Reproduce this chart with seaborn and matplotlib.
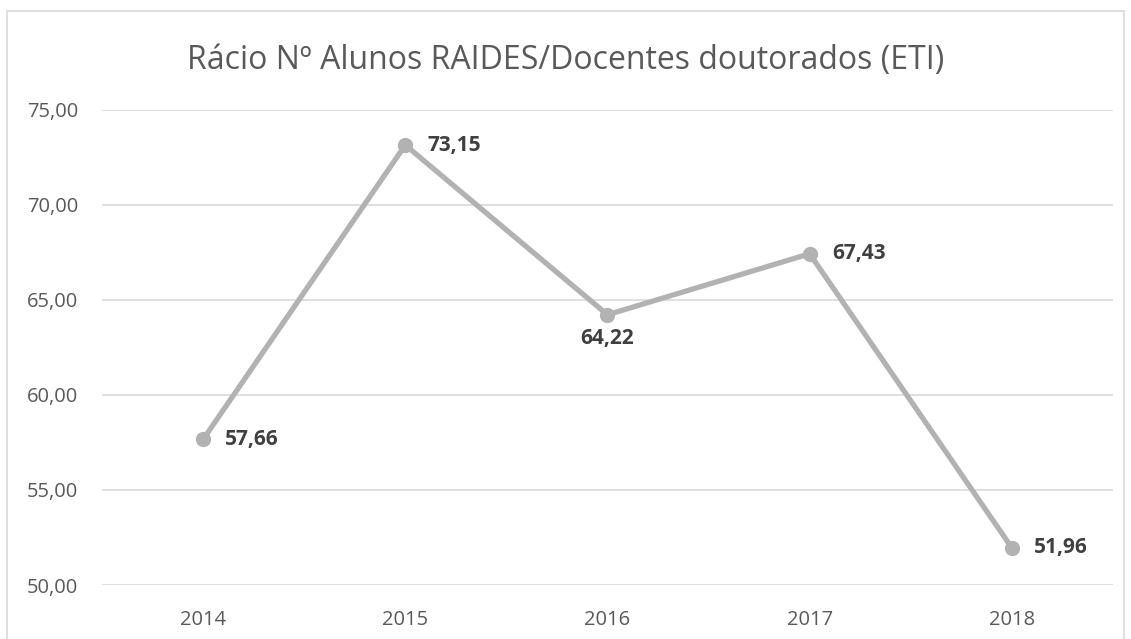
#############################################
########## 1. Load libraries
#############################################
import numpy as np
import pandas as pd
import seaborn as sns
import matplotlib.pyplot as plt
from matplotlib.patches import Rectangle

#############################################
########## 2. Data
#############################################
years = ['2014', '2015', '2016', '2017', '2018']
ratio = [57.66, 73.15, 64.22, 67.43, 51.96]
label_below = [False, False, True, False, False]
title = 'Rácio Nº Alunos RAIDES/Docentes doutorados (ETI)'

#############################################
########## 3. Plot
#############################################
sns.set_style('white')
plt.rcParams['font.family'] = ['Open Sans', 'DejaVu Sans']

df = pd.DataFrame({'year': years, 'ratio': ratio})

fig = plt.figure(figsize=(11.31, 6.39), dpi=100)
ax = fig.add_axes([0.0902, 0.0845, 0.8938, 0.7435])

# chart border
fig.patches.append(Rectangle((7 / 1131, -0.01), 1117 / 1131, 1 - 11 / 639 + 0.01,
                             transform=fig.transFigure, fill=False,
                             edgecolor='#D9D9D9', linewidth=1.2))

sns.lineplot(data=df, x='year', y='ratio', ax=ax, color='#B2B2B2',
             linewidth=3.8, marker='o', markersize=11, markeredgewidth=0, zorder=3)

ax.set_xlim(-0.5, len(years) - 0.5)
ax.set_ylim(50, 75)
ax.set_yticks(np.arange(50, 76, 5))
ax.set_yticklabels([f'{v:.2f}'.replace('.', ',') for v in np.arange(50, 76, 5)])
ax.yaxis.grid(True, color='#D9D9D9', linewidth=1.2)
ax.xaxis.grid(False)
for s in ax.spines.values():
    s.set_visible(False)
ax.tick_params(axis='both', length=0, labelsize=14.5, labelcolor='#595959')
ax.tick_params(axis='y', pad=17)
ax.tick_params(axis='x', pad=18)
ax.set(xlabel='', ylabel='')

# value labels
for i, (v, below) in enumerate(zip(ratio, label_below)):
    txt = f'{v:.2f}'.replace('.', ',')
    if below:
        ax.annotate(txt, (i, v), xytext=(0, -17), textcoords='offset points',
                    ha='center', va='center', fontsize=15, fontweight='bold', color='#404040')
    else:
        ax.annotate(txt, (i, v), xytext=(16, 0), textcoords='offset points',
                    ha='left', va='center', fontsize=15, fontweight='bold', color='#404040')

fig.text(0.5, 1 - 60 / 639, title, ha='center', va='center', fontsize=23, color='#595959')

plt.savefig('out.png', dpi=100)
